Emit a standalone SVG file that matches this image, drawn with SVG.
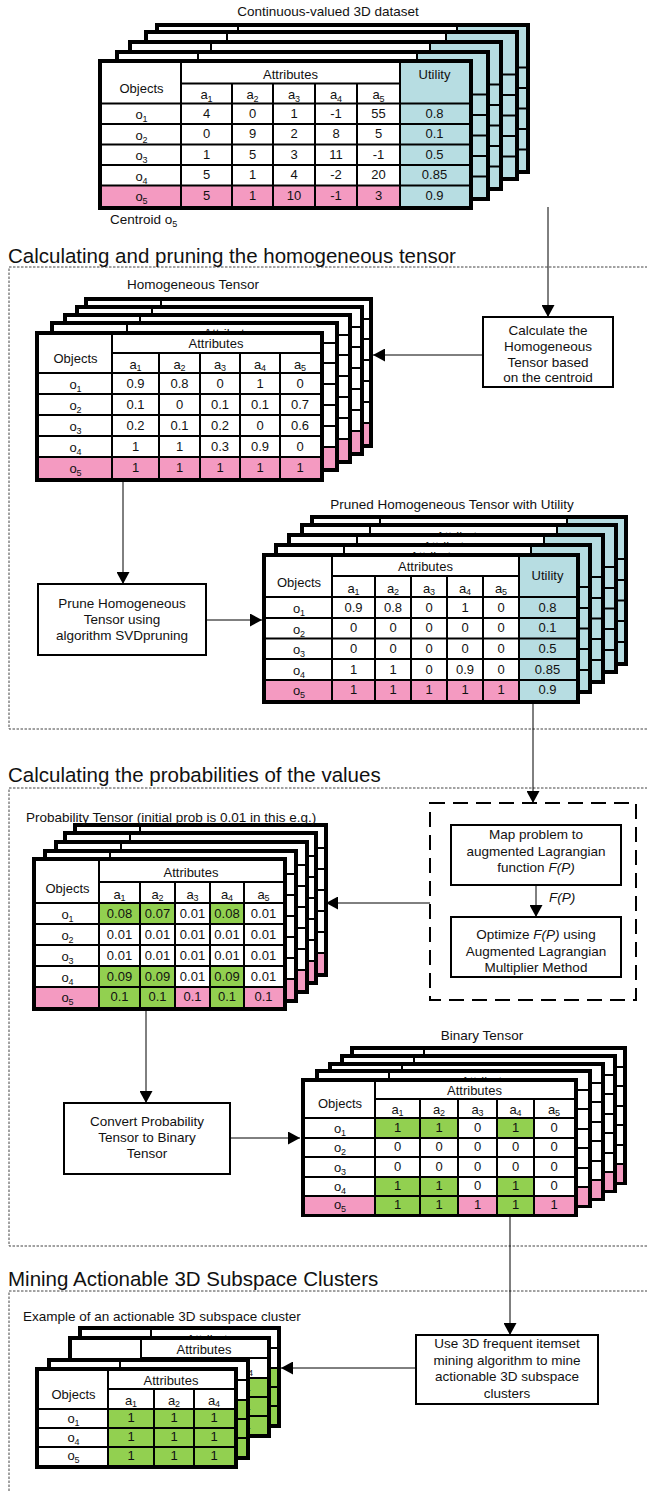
<svg xmlns="http://www.w3.org/2000/svg" width="647" height="1491" viewBox="0 0 647 1491">
<style>
text{font-family:"Liberation Sans",Arial,Helvetica,sans-serif;fill:#111}
.t{font-size:13px;text-anchor:middle}
.s{font-size:9px}
.l{font-size:13.5px;text-anchor:middle}
.ls{font-size:13.5px}
.ttl{font-size:20.5px}
.tb{fill:#000}
.wh{fill:#fff}
.pk{fill:#F49AC1}
.bl{fill:#B7DDE2}
.gr{fill:#92D050}
.gl{fill:none;stroke:#000;stroke-width:2}
.box{fill:#fff;stroke:#000;stroke-width:2}
.con{fill:none;stroke:#000;stroke-width:1}
.sec{fill:none;stroke:#444;stroke-width:1;stroke-dasharray:2.5 1.5}
.dsh{fill:none;stroke:#000;stroke-width:2;stroke-dasharray:15 8}
</style>
<defs>
<marker id="ah" markerUnits="userSpaceOnUse" markerWidth="13" markerHeight="13" refX="12" refY="6.5" orient="auto"><path d="M0,0L12,6.5L0,13z" fill="#000"/></marker>
</defs>
<rect width="647" height="1491" fill="#fff"/>

<g id="sec1"><rect class="sec" x="9" y="267" width="660" height="462"/><text class="ttl" x="8" y="263">Calculating and pruning the homogeneous tensor</text></g>
<g id="sec2"><rect class="sec" x="9" y="788" width="660" height="458"/><text class="ttl" x="8" y="782">Calculating the probabilities of the values</text></g>
<g id="sec3"><rect class="sec" x="9" y="1291" width="660" height="230"/><text class="ttl" x="8" y="1286">Mining Actionable 3D Subspace Clusters</text></g>

<!-- Stack A: continuous dataset -->
<g id="dataset">
<use href="#tA" transform="translate(57,-36)"/>
<use href="#tA" transform="translate(46,-29)"/>
<use href="#tA" transform="translate(30,-19)"/>
<use href="#tA" transform="translate(17,-9)"/>
<g id="tA">
<rect class="tb" x="98" y="59" width="375" height="151"/>
<rect class="wh" x="102" y="63" width="367" height="143"/>
<rect class="bl" x="400" y="63" width="69" height="143"/>
<rect class="pk" x="102" y="185.5" width="298" height="20.5"/>
<path class="gl" d="M181,83.5H400M102,103.5H469M102,124H469M102,144.5H469M102,165H469M102,185.5H469M181,63V206M232,83.5V206M273,83.5V206M315,83.5V206M357,83.5V206M400,63V206"/>
<text class="t" x="141.5" y="93">Objects</text>
<text class="t" x="290.5" y="78.5">Attributes</text>
<text class="t" x="434.5" y="78.5">Utility</text>
<text class="t" x="206.5" y="99">a<tspan class="s" dy="2.5">1</tspan></text>
<text class="t" x="252.5" y="99">a<tspan class="s" dy="2.5">2</tspan></text>
<text class="t" x="294" y="99">a<tspan class="s" dy="2.5">3</tspan></text>
<text class="t" x="336" y="99">a<tspan class="s" dy="2.5">4</tspan></text>
<text class="t" x="378.5" y="99">a<tspan class="s" dy="2.5">5</tspan></text>
<text class="t" x="141.5" y="119">o<tspan class="s" dy="3">1</tspan></text>
<text class="t" x="141.5" y="139.5">o<tspan class="s" dy="3">2</tspan></text>
<text class="t" x="141.5" y="160">o<tspan class="s" dy="3">3</tspan></text>
<text class="t" x="141.5" y="180.5">o<tspan class="s" dy="3">4</tspan></text>
<text class="t" x="141.5" y="201">o<tspan class="s" dy="3">5</tspan></text>
<text class="t" y="117.5"><tspan x="206.5">4</tspan><tspan x="252.5">0</tspan><tspan x="294">1</tspan><tspan x="336">-1</tspan><tspan x="378.5">55</tspan><tspan x="434.5">0.8</tspan></text>
<text class="t" y="138"><tspan x="206.5">0</tspan><tspan x="252.5">9</tspan><tspan x="294">2</tspan><tspan x="336">8</tspan><tspan x="378.5">5</tspan><tspan x="434.5">0.1</tspan></text>
<text class="t" y="158.5"><tspan x="206.5">1</tspan><tspan x="252.5">5</tspan><tspan x="294">3</tspan><tspan x="336">11</tspan><tspan x="378.5">-1</tspan><tspan x="434.5">0.5</tspan></text>
<text class="t" y="179"><tspan x="206.5">5</tspan><tspan x="252.5">1</tspan><tspan x="294">4</tspan><tspan x="336">-2</tspan><tspan x="378.5">20</tspan><tspan x="434.5">0.85</tspan></text>
<text class="t" y="199.5"><tspan x="206.5">5</tspan><tspan x="252.5">1</tspan><tspan x="294">10</tspan><tspan x="336">-1</tspan><tspan x="378.5">3</tspan><tspan x="434.5">0.9</tspan></text>
</g>
<text class="l" x="328" y="16">Continuous-valued 3D dataset</text>
<text class="ls" x="110" y="224">Centroid o<tspan class="s" dy="2.5">5</tspan></text>
</g>

<!-- Stack B: homogeneous tensor -->
<g id="homogeneous">
<use href="#tB" transform="translate(49,-34)"/>
<use href="#tB" transform="translate(40,-26)"/>
<use href="#tB" transform="translate(28,-18)"/>
<use href="#tB" transform="translate(15,-10)"/>
<g id="tB">
<rect class="tb" x="35" y="331" width="289" height="151"/>
<rect class="wh" x="39" y="335" width="281" height="143"/>
<rect class="pk" x="39" y="457" width="281" height="21"/>
<path class="gl" d="M112,353H320M39,373H320M39,394H320M39,415H320M39,436H320M39,457H320M112,335V478M159,353V478M200,353V478M240,353V478M280,353V478"/>
<text class="t" x="75.5" y="363">Objects</text>
<text class="t" x="216" y="348">Attributes</text>
<text class="t" x="135.5" y="368.5">a<tspan class="s" dy="2.5">1</tspan></text>
<text class="t" x="179.5" y="368.5">a<tspan class="s" dy="2.5">2</tspan></text>
<text class="t" x="220" y="368.5">a<tspan class="s" dy="2.5">3</tspan></text>
<text class="t" x="260" y="368.5">a<tspan class="s" dy="2.5">4</tspan></text>
<text class="t" x="300" y="368.5">a<tspan class="s" dy="2.5">5</tspan></text>
<text class="t" x="75.5" y="389">o<tspan class="s" dy="3">1</tspan></text>
<text class="t" x="75.5" y="410">o<tspan class="s" dy="3">2</tspan></text>
<text class="t" x="75.5" y="431">o<tspan class="s" dy="3">3</tspan></text>
<text class="t" x="75.5" y="452">o<tspan class="s" dy="3">4</tspan></text>
<text class="t" x="75.5" y="473">o<tspan class="s" dy="3">5</tspan></text>
<text class="t" y="387.5"><tspan x="135.5">0.9</tspan><tspan x="179.5">0.8</tspan><tspan x="220">0</tspan><tspan x="260">1</tspan><tspan x="300">0</tspan></text>
<text class="t" y="408.5"><tspan x="135.5">0.1</tspan><tspan x="179.5">0</tspan><tspan x="220">0.1</tspan><tspan x="260">0.1</tspan><tspan x="300">0.7</tspan></text>
<text class="t" y="429.5"><tspan x="135.5">0.2</tspan><tspan x="179.5">0.1</tspan><tspan x="220">0.2</tspan><tspan x="260">0</tspan><tspan x="300">0.6</tspan></text>
<text class="t" y="450.5"><tspan x="135.5">1</tspan><tspan x="179.5">1</tspan><tspan x="220">0.3</tspan><tspan x="260">0.9</tspan><tspan x="300">0</tspan></text>
<text class="t" y="471.5"><tspan x="135.5">1</tspan><tspan x="179.5">1</tspan><tspan x="220">1</tspan><tspan x="260">1</tspan><tspan x="300">1</tspan></text>
</g>
<text class="l" x="193" y="289">Homogeneous Tensor</text>
</g>

<!-- Stack C: pruned -->
<g id="pruned">
<use href="#tC" transform="translate(48,-38)"/>
<use href="#tC" transform="translate(38,-30)"/>
<use href="#tC" transform="translate(25,-20)"/>
<use href="#tC" transform="translate(12,-10)"/>
<g id="tC">
<rect class="tb" x="262" y="553" width="318" height="151"/>
<rect class="wh" x="266" y="557" width="310" height="143"/>
<rect class="bl" x="519" y="557" width="57" height="143"/>
<rect class="pk" x="266" y="680" width="253" height="20"/>
<path class="gl" d="M332,576H519M266,597H576M266,618H576M266,638.5H576M266,659H576M266,680H576M332,557V700M375,576V700M411,576V700M447,576V700M483,576V700M519,557V700"/>
<text class="t" x="299" y="587">Objects</text>
<text class="t" x="425.5" y="571">Attributes</text>
<text class="t" x="547.5" y="580">Utility</text>
<text class="t" x="353.5" y="592.5">a<tspan class="s" dy="2.5">1</tspan></text>
<text class="t" x="393" y="592.5">a<tspan class="s" dy="2.5">2</tspan></text>
<text class="t" x="429" y="592.5">a<tspan class="s" dy="2.5">3</tspan></text>
<text class="t" x="465" y="592.5">a<tspan class="s" dy="2.5">4</tspan></text>
<text class="t" x="501" y="592.5">a<tspan class="s" dy="2.5">5</tspan></text>
<text class="t" x="299" y="613">o<tspan class="s" dy="3">1</tspan></text>
<text class="t" x="299" y="633.5">o<tspan class="s" dy="3">2</tspan></text>
<text class="t" x="299" y="654">o<tspan class="s" dy="3">3</tspan></text>
<text class="t" x="299" y="675">o<tspan class="s" dy="3">4</tspan></text>
<text class="t" x="299" y="695">o<tspan class="s" dy="3">5</tspan></text>
<text class="t" y="611.5"><tspan x="353.5">0.9</tspan><tspan x="393">0.8</tspan><tspan x="429">0</tspan><tspan x="465">1</tspan><tspan x="501">0</tspan><tspan x="547.5">0.8</tspan></text>
<text class="t" y="632"><tspan x="353.5">0</tspan><tspan x="393">0</tspan><tspan x="429">0</tspan><tspan x="465">0</tspan><tspan x="501">0</tspan><tspan x="547.5">0.1</tspan></text>
<text class="t" y="652.5"><tspan x="353.5">0</tspan><tspan x="393">0</tspan><tspan x="429">0</tspan><tspan x="465">0</tspan><tspan x="501">0</tspan><tspan x="547.5">0.5</tspan></text>
<text class="t" y="673.5"><tspan x="353.5">1</tspan><tspan x="393">1</tspan><tspan x="429">0</tspan><tspan x="465">0.9</tspan><tspan x="501">0</tspan><tspan x="547.5">0.85</tspan></text>
<text class="t" y="693.5"><tspan x="353.5">1</tspan><tspan x="393">1</tspan><tspan x="429">1</tspan><tspan x="465">1</tspan><tspan x="501">1</tspan><tspan x="547.5">0.9</tspan></text>
</g>
<text class="l" x="452" y="509">Pruned Homogeneous Tensor with Utility</text>
</g>

<!-- Stack D: probability -->
<g id="probability">
<use href="#tD" transform="translate(41,-34)"/>
<use href="#tD" transform="translate(31,-26)"/>
<use href="#tD" transform="translate(22,-17)"/>
<use href="#tD" transform="translate(11,-8)"/>
<g id="tD">
<rect class="tb" x="32" y="857" width="255" height="154"/>
<rect class="wh" x="36" y="861" width="247" height="146"/>
<rect class="gr" x="99" y="903" width="76" height="21"/>
<rect class="gr" x="210" y="903" width="34" height="21"/>
<rect class="gr" x="99" y="966" width="76" height="41"/>
<rect class="gr" x="210" y="966" width="34" height="41"/>
<rect class="pk" x="36" y="987" width="63" height="20"/>
<rect class="pk" x="175" y="987" width="35" height="20"/>
<rect class="pk" x="244" y="987" width="39" height="20"/>
<path class="gl" d="M99,882H283M36,903H283M36,924H283M36,945H283M36,966H283M36,987H283M99,861V1007M140,882V1007M175,882V1007M210,882V1007M244,882V1007"/>
<text class="t" x="67.5" y="893">Objects</text>
<text class="t" x="191" y="877">Attributes</text>
<text class="t" x="119.5" y="898.5">a<tspan class="s" dy="2.5">1</tspan></text>
<text class="t" x="157.5" y="898.5">a<tspan class="s" dy="2.5">2</tspan></text>
<text class="t" x="192.5" y="898.5">a<tspan class="s" dy="2.5">3</tspan></text>
<text class="t" x="227" y="898.5">a<tspan class="s" dy="2.5">4</tspan></text>
<text class="t" x="263.5" y="898.5">a<tspan class="s" dy="2.5">5</tspan></text>
<text class="t" x="67.5" y="919">o<tspan class="s" dy="3">1</tspan></text>
<text class="t" x="67.5" y="940">o<tspan class="s" dy="3">2</tspan></text>
<text class="t" x="67.5" y="961">o<tspan class="s" dy="3">3</tspan></text>
<text class="t" x="67.5" y="982">o<tspan class="s" dy="3">4</tspan></text>
<text class="t" x="67.5" y="1002">o<tspan class="s" dy="3">5</tspan></text>
<text class="t" y="917.5"><tspan x="119.5">0.08</tspan><tspan x="157.5">0.07</tspan><tspan x="192.5">0.01</tspan><tspan x="227">0.08</tspan><tspan x="263.5">0.01</tspan></text>
<text class="t" y="938.5"><tspan x="119.5">0.01</tspan><tspan x="157.5">0.01</tspan><tspan x="192.5">0.01</tspan><tspan x="227">0.01</tspan><tspan x="263.5">0.01</tspan></text>
<text class="t" y="959.5"><tspan x="119.5">0.01</tspan><tspan x="157.5">0.01</tspan><tspan x="192.5">0.01</tspan><tspan x="227">0.01</tspan><tspan x="263.5">0.01</tspan></text>
<text class="t" y="980.5"><tspan x="119.5">0.09</tspan><tspan x="157.5">0.09</tspan><tspan x="192.5">0.01</tspan><tspan x="227">0.09</tspan><tspan x="263.5">0.01</tspan></text>
<text class="t" y="1000.5"><tspan x="119.5">0.1</tspan><tspan x="157.5">0.1</tspan><tspan x="192.5">0.1</tspan><tspan x="227">0.1</tspan><tspan x="263.5">0.1</tspan></text>
</g>
<text class="ls" x="26" y="822">Probability Tensor (initial prob is 0.01 in this e.g.)</text>
</g>

<!-- Stack E: binary -->
<g id="binary">
<use href="#tE" transform="translate(49,-32)"/>
<use href="#tE" transform="translate(39,-24)"/>
<use href="#tE" transform="translate(27,-16)"/>
<use href="#tE" transform="translate(14,-9)"/>
<g id="tE">
<rect class="tb" x="301" y="1078" width="277" height="139"/>
<rect class="wh" x="305" y="1082" width="269" height="132"/>
<rect class="gr" x="375" y="1118" width="83" height="20"/>
<rect class="gr" x="497" y="1118" width="37" height="20"/>
<rect class="gr" x="375" y="1177" width="83" height="37"/>
<rect class="gr" x="497" y="1177" width="37" height="37"/>
<rect class="pk" x="305" y="1196" width="70" height="18"/>
<rect class="pk" x="458" y="1196" width="39" height="18"/>
<rect class="pk" x="534" y="1196" width="40" height="18"/>
<path class="gl" d="M375,1099H574M305,1118H574M305,1138H574M305,1157H574M305,1177H574M305,1196H574M375,1082V1214M420,1099V1214M458,1099V1214M497,1099V1214M534,1099V1214"/>
<text class="t" x="340" y="1108">Objects</text>
<text class="t" x="474.5" y="1094.5">Attributes</text>
<text class="t" x="397.5" y="1113.5">a<tspan class="s" dy="2.5">1</tspan></text>
<text class="t" x="439" y="1113.5">a<tspan class="s" dy="2.5">2</tspan></text>
<text class="t" x="477.5" y="1113.5">a<tspan class="s" dy="2.5">3</tspan></text>
<text class="t" x="515.5" y="1113.5">a<tspan class="s" dy="2.5">4</tspan></text>
<text class="t" x="554" y="1113.5">a<tspan class="s" dy="2.5">5</tspan></text>
<text class="t" x="340" y="1133">o<tspan class="s" dy="3">1</tspan></text>
<text class="t" x="340" y="1152">o<tspan class="s" dy="3">2</tspan></text>
<text class="t" x="340" y="1172">o<tspan class="s" dy="3">3</tspan></text>
<text class="t" x="340" y="1191">o<tspan class="s" dy="3">4</tspan></text>
<text class="t" x="340" y="1209">o<tspan class="s" dy="3">5</tspan></text>
<text class="t" y="1132"><tspan x="397.5">1</tspan><tspan x="439">1</tspan><tspan x="477.5">0</tspan><tspan x="515.5">1</tspan><tspan x="554">0</tspan></text>
<text class="t" y="1151"><tspan x="397.5">0</tspan><tspan x="439">0</tspan><tspan x="477.5">0</tspan><tspan x="515.5">0</tspan><tspan x="554">0</tspan></text>
<text class="t" y="1171"><tspan x="397.5">0</tspan><tspan x="439">0</tspan><tspan x="477.5">0</tspan><tspan x="515.5">0</tspan><tspan x="554">0</tspan></text>
<text class="t" y="1190"><tspan x="397.5">1</tspan><tspan x="439">1</tspan><tspan x="477.5">0</tspan><tspan x="515.5">1</tspan><tspan x="554">0</tspan></text>
<text class="t" y="1208.5"><tspan x="397.5">1</tspan><tspan x="439">1</tspan><tspan x="477.5">1</tspan><tspan x="515.5">1</tspan><tspan x="554">1</tspan></text>
</g>
<text class="l" x="482" y="1040">Binary Tensor</text>
</g>

<!-- Stack F: cluster -->
<g id="cluster">
<use href="#tF" transform="translate(43,-41)"/>
<use href="#tF" transform="translate(33,-31)"/>
<use href="#tF" transform="translate(12,-9)"/>
<g id="tF">
<rect class="tb" x="35" y="1367" width="203" height="102"/>
<rect class="wh" x="39" y="1371" width="195" height="94"/>
<rect class="gr" x="108" y="1409" width="126" height="56"/>
<path class="gl" d="M108,1389H234M39,1409H234M39,1428H234M39,1447H234M108,1371V1465M154,1389V1465M194,1389V1465"/>
<text class="t" x="73.5" y="1399">Objects</text>
<text class="t" x="171" y="1384.5">Attributes</text>
<text class="t" x="131" y="1404.5">a<tspan class="s" dy="2.5">1</tspan></text>
<text class="t" x="174" y="1404.5">a<tspan class="s" dy="2.5">2</tspan></text>
<text class="t" x="214" y="1404.5">a<tspan class="s" dy="2.5">4</tspan></text>
<text class="t" x="73.5" y="1423">o<tspan class="s" dy="3">1</tspan></text>
<text class="t" x="73.5" y="1442">o<tspan class="s" dy="3">4</tspan></text>
<text class="t" x="73.5" y="1460">o<tspan class="s" dy="3">5</tspan></text>
<text class="t" y="1422"><tspan x="131">1</tspan><tspan x="174">1</tspan><tspan x="214">1</tspan></text>
<text class="t" y="1441"><tspan x="131">1</tspan><tspan x="174">1</tspan><tspan x="214">1</tspan></text>
<text class="t" y="1459.5"><tspan x="131">1</tspan><tspan x="174">1</tspan><tspan x="214">1</tspan></text>
</g>
<text class="ls" x="23" y="1321">Example of an actionable 3D subspace cluster</text>
</g>

<!-- Process boxes -->
<g id="calc">
<rect class="box" x="483" y="317" width="130" height="70"/>
<text class="l" x="548" y="335">Calculate the</text>
<text class="l" x="548" y="350.5">Homogeneous</text>
<text class="l" x="548" y="366.5">Tensor based</text>
<text class="l" x="548" y="382">on the centroid</text>
</g>
<g id="prune">
<rect class="box" x="38" y="584" width="168" height="71"/>
<text class="l" x="122" y="608">Prune Homogeneous</text>
<text class="l" x="122" y="624">Tensor using</text>
<text class="l" x="122" y="640">algorithm SVDpruning</text>
</g>
<g id="lagrangian">
<rect class="dsh" x="430" y="803" width="206" height="197"/>
<g id="map">
<rect class="box" x="451" y="825" width="170" height="60"/>
<text class="l" x="536" y="839">Map problem to</text>
<text class="l" x="536" y="855.5">augmented Lagrangian</text>
<text class="l" x="536" y="872">function <tspan font-style="italic">F(P)</tspan></text>
</g>
<g id="optimize">
<rect class="box" x="451" y="917" width="170" height="60"/>
<text class="l" x="536" y="939">Optimize <tspan font-style="italic">F(P)</tspan> using</text>
<text class="l" x="536" y="955.5">Augmented Lagrangian</text>
<text class="l" x="536" y="971.5">Multiplier Method</text>
</g>
</g>
<g id="convert">
<rect class="box" x="64" y="1103" width="166" height="71"/>
<text class="l" x="147" y="1126">Convert Probability</text>
<text class="l" x="147" y="1142">Tensor to Binary</text>
<text class="l" x="147" y="1158">Tensor</text>
</g>
<g id="mine">
<rect class="box" x="416" y="1335" width="182" height="69"/>
<text class="l" x="507" y="1348">Use 3D frequent itemset</text>
<text class="l" x="507" y="1364.5">mining algorithm to mine</text>
<text class="l" x="507" y="1381">actionable 3D subspace</text>
<text class="l" x="507" y="1397.5">clusters</text>
</g>

<!-- Connectors -->
<g id="connectors">
<path class="con" d="M548,207V317" marker-end="url(#ah)"/>
<path class="con" d="M483,355H373" marker-end="url(#ah)"/>
<path class="con" d="M123,482V584" marker-end="url(#ah)"/>
<path class="con" d="M206,620H262" marker-end="url(#ah)"/>
<path class="con" d="M533,704V803" marker-end="url(#ah)"/>
<path class="con" d="M536,885V917" marker-end="url(#ah)"/>
<text class="ls" x="549" y="902" font-style="italic">F(P)</text>
<path class="con" d="M430,903H326" marker-end="url(#ah)"/>
<path class="con" d="M146,1011V1103" marker-end="url(#ah)"/>
<path class="con" d="M230,1138H300" marker-end="url(#ah)"/>
<path class="con" d="M510,1217V1335" marker-end="url(#ah)"/>
<path class="con" d="M416,1368H281" marker-end="url(#ah)"/>
</g>
</svg>
